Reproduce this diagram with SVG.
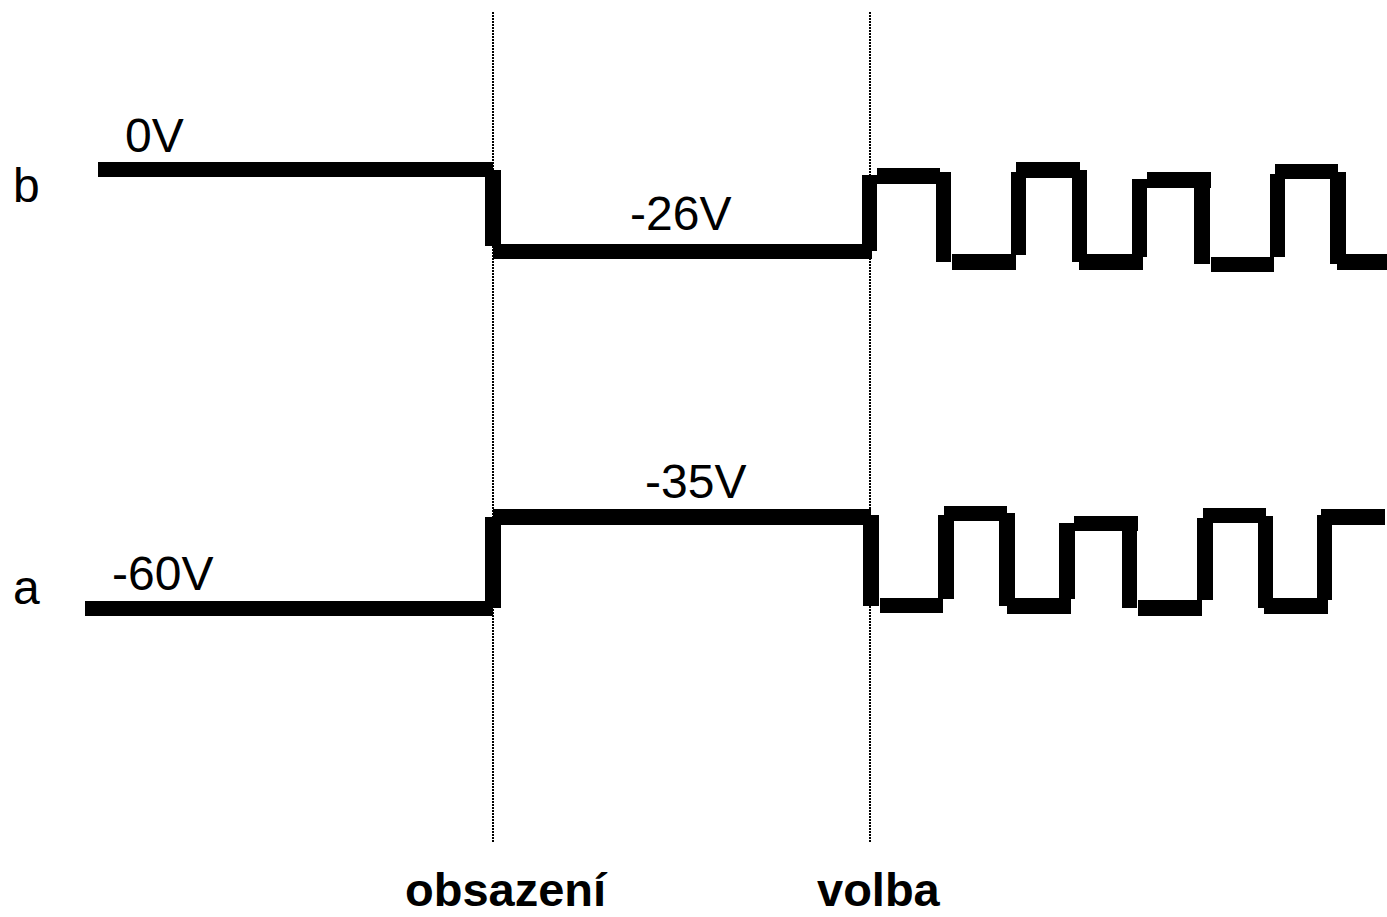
<svg xmlns="http://www.w3.org/2000/svg" width="1387" height="917" viewBox="0 0 1387 917">
<style>
.sig rect{fill:#000}
.lbl{font-family:"Liberation Sans",Arial,sans-serif;font-size:48px;fill:#000}
.bold{font-family:"Liberation Sans",Arial,sans-serif;font-size:47px;font-weight:bold;fill:#000}
.dot{stroke:#000;stroke-width:2;stroke-dasharray:2,1;fill:none}
</style>
<rect x="0" y="0" width="1387" height="917" fill="#fff"/>
<g id="markers">
<line class="dot" x1="493" y1="12" x2="493" y2="843"/>
<line class="dot" x1="870" y1="12" x2="870" y2="843"/>
</g>
<g id="signal-b" class="sig">
<rect x="98" y="162" width="395" height="15"/>
<rect x="485" y="170" width="16" height="76"/>
<rect x="493" y="244" width="379" height="15"/>
<rect x="862" y="175" width="15" height="76"/>
<rect x="877" y="168" width="63" height="16"/>
<rect x="936" y="172" width="15" height="90"/>
<rect x="952" y="254" width="64" height="16"/>
<rect x="1011" y="172" width="15" height="83"/>
<rect x="1016" y="162" width="64" height="16"/>
<rect x="1072" y="170" width="15" height="92"/>
<rect x="1079" y="254" width="64" height="16"/>
<rect x="1132" y="179" width="15" height="78"/>
<rect x="1147" y="172" width="64" height="16"/>
<rect x="1194" y="172" width="16" height="92"/>
<rect x="1211" y="257" width="63" height="15"/>
<rect x="1270" y="174" width="15" height="83"/>
<rect x="1275" y="164" width="63" height="15"/>
<rect x="1330" y="172" width="16" height="92"/>
<rect x="1337" y="254" width="50" height="16"/>
</g>
<g id="signal-a" class="sig">
<rect x="85" y="601" width="408" height="15"/>
<rect x="485" y="517" width="16" height="91"/>
<rect x="493" y="509" width="378" height="16"/>
<rect x="863" y="515" width="16" height="91"/>
<rect x="880" y="598" width="63" height="15"/>
<rect x="938" y="515" width="16" height="84"/>
<rect x="944" y="506" width="63" height="15"/>
<rect x="999" y="513" width="16" height="93"/>
<rect x="1007" y="598" width="64" height="16"/>
<rect x="1059" y="523" width="16" height="76"/>
<rect x="1074" y="516" width="64" height="15"/>
<rect x="1122" y="531" width="15" height="77"/>
<rect x="1138" y="600" width="64" height="16"/>
<rect x="1197" y="518" width="16" height="82"/>
<rect x="1203" y="508" width="63" height="15"/>
<rect x="1258" y="516" width="15" height="92"/>
<rect x="1264" y="598" width="64" height="16"/>
<rect x="1317" y="515" width="15" height="85"/>
<rect x="1321" y="509" width="64" height="16"/>
</g>
<g id="labels">
<text class="lbl" x="13" y="202">b</text>
<text class="lbl" x="125" y="152">0V</text>
<text class="lbl" x="630" y="230">-26V</text>
<text class="lbl" x="13" y="604">a</text>
<text class="lbl" x="112" y="590">-60V</text>
<text class="lbl" x="645" y="498">-35V</text>
<text class="bold" x="405" y="906">obsazení</text>
<text class="bold" x="817" y="906">volba</text>
</g>
</svg>
